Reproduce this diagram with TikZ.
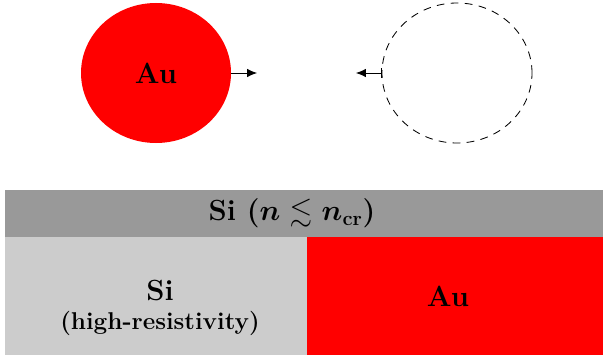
\documentclass[tikz,border=0pt]{standalone}
\usepackage{amsmath,amssymb}
\usepackage{xcolor}
\usetikzlibrary{positioning,arrows.meta,shapes.geometric}
\definecolor{GoldRed}{HTML}{FF0000}
\definecolor{SiDark}{HTML}{999999}
\definecolor{SiLight}{HTML}{CCCCCC}

\begin{document}
\begin{tikzpicture}[
        every node/.style={font=\huge\bfseries, text=black},
        ball/.style={ellipse, minimum width=37.5mm, minimum height=35mm,
            inner sep=0pt},
        slab/.style={rectangle, inner sep=0pt, align=center},
        arr/.style={-{Latex[length=7pt,width=6pt]}, semithick},
        barr/.style={{Bar[width=7pt]}-{Latex[length=7pt,width=6pt]}, semithick},
      ]
      \useasboundingbox (0,0) rectangle (15.075,9);

      % Particles
      \node[ball, fill=GoldRed] (auball) at (3.9, 7.175) {Au};
      \node[ball, draw, dash pattern=on 5.5pt off 4.5pt, semithick] (ghost)
      at (11.425, 7.175) {};

      \coordinate (auend)    at (6.425, 7.175);
      \coordinate (ghostend) at (8.9, 7.175);

      % Arrows
      \draw[arr]  (auball.east) -- (auend);
      \draw[barr] (ghost.west) -- (ghostend);

      % Substrate
      \node[slab, fill=SiDark, minimum width=149.5mm, minimum height=11.75mm]
      (sitop) at (7.6, 3.6625) {};
      \node[slab, fill=SiLight, minimum width=75.5mm, minimum height=29.5mm]
      (sihr) at (3.9, 1.6) {};
      \node[slab, fill=GoldRed, minimum width=74mm, minimum height=29.5mm]
      (aufilm) at (11.375, 1.6) {};

      % Labels
      \node[font=\huge\bfseries\boldmath] (sitoplab) at (7.3, 3.6625)
      {Si $(n\lesssim n_{\mathrm{cr}})$};
      \node[slab] (sihrlab) at (4.0, 1.3)
      {Si\\[-4pt]{\LARGE (high-resistivity)}};
      \node (aufilmlab) at (11.2, 1.6) {Au};

    \end{tikzpicture}
\end{document}
